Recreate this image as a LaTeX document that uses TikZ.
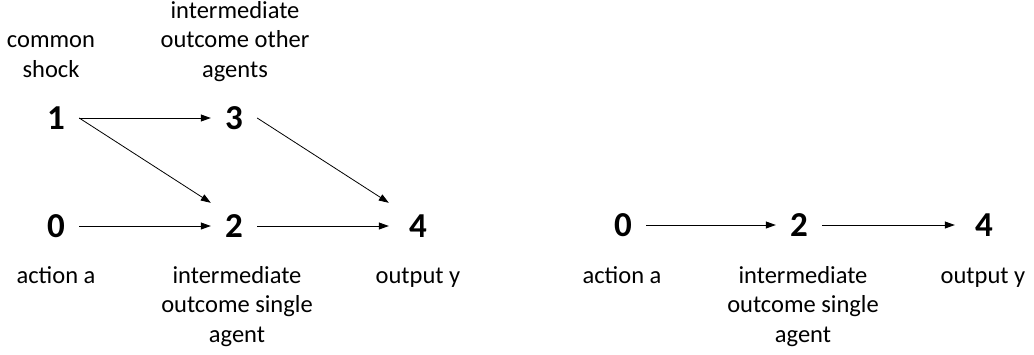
\documentclass[tikz,border=0pt]{standalone}
\usepackage{fontspec}
\setmainfont{Carlito}
\usetikzlibrary{arrows.meta}
\begin{document}
\begin{tikzpicture}[x=1pt,y=-1pt,
  num/.style={font=\fontsize{35}{35}\selectfont\bfseries, minimum width=46pt, minimum height=46pt, inner sep=0pt},
  numwide/.style={num, minimum width=58pt},
  lab/.style={font=\fontsize{24.5}{29.5}\selectfont, align=center, inner sep=0pt, anchor=base},
  arr/.style={line width=0.8pt, -{Triangle[length=10pt,width=7pt]}}]
\useasboundingbox (0,0) rectangle (1034,354);
% left diagram
\node[num] (l1) at (56,118) {1};
\node[num] (l3) at (234,118) {3};
\node[num] (l0) at (56,226) {0};
\node[num] (l2) at (234,226) {2};
\node[numwide] (l4) at (418,226) {4};
\node[lab] (lcs) at (51,77) {common\\shock};
\node[lab] (lio) at (235,77) {intermediate\\outcome other\\agents};
\node[lab] (laa) at (56,283) {action a};
\node[lab] (lis) at (237,342) {intermediate\\outcome single\\agent};
\node[lab] (loy) at (418,283) {output y};
\draw[arr] (l1.east) -- (l3.west);
\draw[arr] (l1.east) -- (l2.north west);
\draw[arr] (l0.east) -- (l2.west);
\draw[arr] (l2.east) -- (l4.west);
\draw[arr] (l3.east) -- (l4.north west);
% right diagram
\node[num] (r0) at (623,225) {0};
\node[num] (r2) at (799,225) {2};
\node[numwide] (r4) at (984,225) {4};
\node[lab] (raa) at (622,283) {action a};
\node[lab] (ris) at (803,342) {intermediate\\outcome single\\agent};
\node[lab] (roy) at (983,283) {output y};
\draw[arr] (r0.east) -- (r2.west);
\draw[arr] (r2.east) -- (r4.west);
\end{tikzpicture}
\end{document}
